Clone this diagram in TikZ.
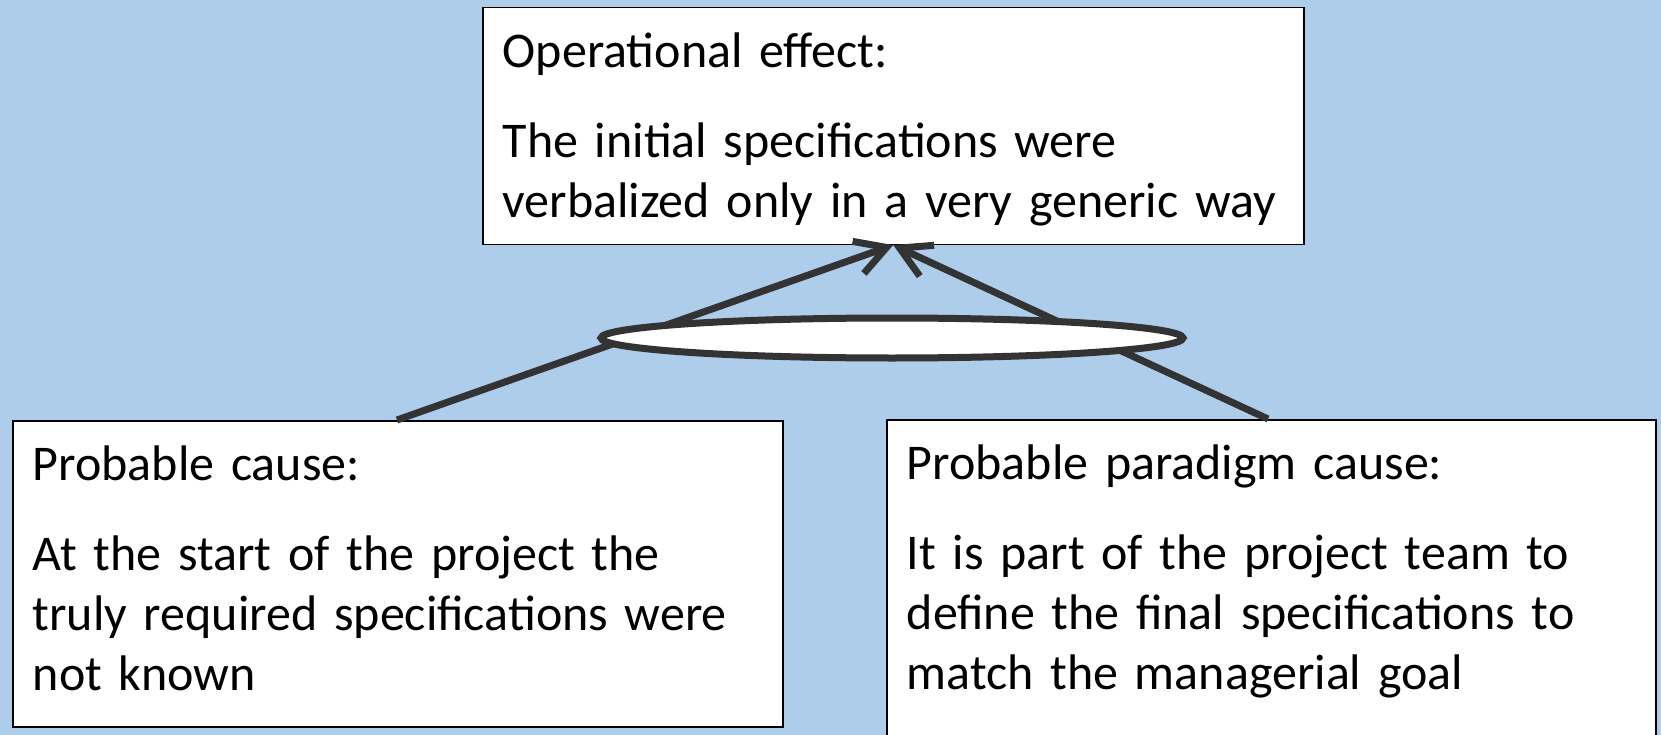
\documentclass[tikz,border=0pt]{standalone}
\usepackage{fontspec}
\setmainfont{Carlito}
\usepackage{tikz}
\definecolor{slide}{RGB}{173,205,235}
\definecolor{linkgray}{RGB}{51,51,51}
\tikzset{>=latex,
    card/.style={draw=black, line width=1.5pt, fill=white, anchor=north west, align=left,
      inner xsep=20pt, inner ysep=18pt, font=\fontsize{50}{60}\selectfont},
    link/.style={draw=linkgray, line width=7pt, -{Straight Barb[length=30pt,width=34pt]}},
    joint/.style={ellipse, draw=linkgray, line width=7pt, fill=white, inner sep=0pt,
      minimum width=582pt, minimum height=40pt}}
\usetikzlibrary{arrows.meta,shapes.geometric}

\begin{document}
\begin{tikzpicture}[x=1pt,y=-1pt]
    \fill[slide] (0,0) rectangle (1661,735);
    \useasboundingbox (0,0) rectangle (1661,735);
    \node[card, text width=781pt] (effect) at (482,7) {\strut Operational effect:\\[30pt]
      The initial specifications were\\
      verbalized only in a very generic way};
    \node[card, text width=730pt] (lcause) at (12,420) {\strut Probable cause:\\[30pt]
      At the start of the project the\\
      truly required specifications were\\
      not known\strut};
    \node[card, text width=729pt] (rcause) at (886,419) {\strut Probable paradigm cause:\\[30pt]
      It is part of the project team to\\
      define the final specifications to\\
      match the managerial goal\rule[-70pt]{0pt}{0pt}};
    \draw[link] ([xshift=385pt]lcause.north west) -- (effect.south);
    \draw[link] ([xshift=382pt]rcause.north west) -- (effect.south);
    \node[joint] (and) at (892,338) {};
\end{tikzpicture}
\end{document}
